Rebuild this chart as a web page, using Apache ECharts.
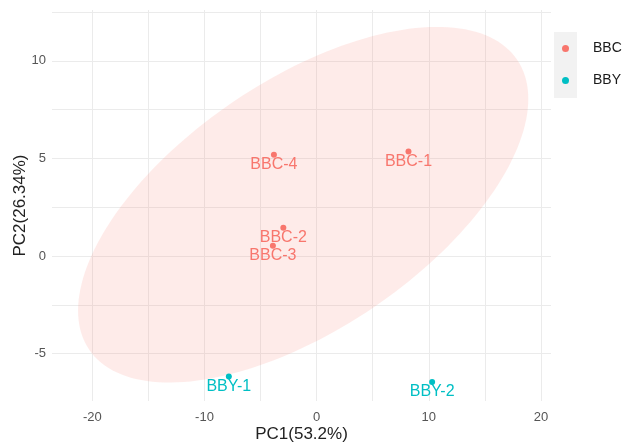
<!DOCTYPE html>
<html>
<head>
<meta charset="utf-8">
<script src="https://cdn.jsdelivr.net/npm/echarts@6/dist/echarts.min.js"></script>
<style>
  html, body { margin: 0; padding: 0; background: #ffffff; }
  #chart { width: 628px; height: 445px; }
</style>
</head>
<body>
<div id="chart"></div>
<script>
// PCA scores of the two sample groups
const groups = ['BBC', 'BBY'];
const groupColors = ['#F8766D', '#00BFC4'];

const bbcNames = ['BBC-1', 'BBC-2', 'BBC-3', 'BBC-4'];
const bbcPC1 = [8.19, -2.97, -3.9, -3.81];
const bbcPC2 = [5.35, 1.45, 0.53, 5.19];

const bbyNames = ['BBY-1', 'BBY-2'];
const bbyPC1 = [-7.83, 10.3];
const bbyPC2 = [-6.17, -6.45];

// BBC confidence ellipse: centre and shape matrix, in PC1/PC2 units
const ellipseCenter = [-1.2, 2.63];
const ellipseShape = [[403, 108.8], [108.8, 82.9]];

// Axis ranges, labelled ticks and grid lines
const xRange = [-23.6, 20.9];
const yRange = [-7.42, 12.6];
const xLabels = [-20, -10, 0, 10, 20];
const xGrid = [-20, -15, -10, -5, 0, 5, 10, 15, 20];
const yLabels = [-5, 0, 5, 10];
const yGrid = [-5, -2.5, 0, 2.5, 5, 7.5, 10, 12.5];

const FONT = '"Liberation Sans", Arial, sans-serif';

function points(names, xs, ys) {
  return names.map((n, i) => ({ name: n, value: [xs[i], ys[i]] }));
}

// Outline of the ellipse from its Cholesky factor
function ellipseOutline(center, S, steps) {
  const l11 = Math.sqrt(S[0][0]);
  const l21 = S[1][0] / l11;
  const l22 = Math.sqrt(S[1][1] - l21 * l21);
  const out = [];
  for (let k = 0; k < steps; k++) {
    const t = (2 * Math.PI * k) / steps;
    const c = Math.cos(t), s = Math.sin(t);
    out.push([center[0] + l11 * c, center[1] + l21 * c + l22 * s]);
  }
  return out;
}

const ellipsePts = ellipseOutline(ellipseCenter, ellipseShape, 180);

function scatterSeries(name, color, data) {
  return {
    name: name,
    type: 'scatter',
    data: data,
    symbol: 'circle',
    symbolSize: 6,
    itemStyle: { color: color, opacity: 1 },
    label: {
      show: true,
      position: 'inside',
      offset: [0, 10],
      formatter: p => p.name,
      color: color,
      fontSize: 16,
      fontFamily: FONT
    },
    emphasis: { disabled: true },
    z: 3
  };
}

const chart = echarts.init(document.getElementById('chart'), null, { renderer: 'canvas' });

chart.setOption({
  animation: false,
  backgroundColor: '#ffffff',
  grid: { left: 52, right: 77, top: 10, bottom: 44, outerBoundsMode: 'none', containLabel: false },
  xAxis: {
    type: 'value',
    min: xRange[0],
    max: xRange[1],
    name: 'PC1(53.2%)',
    nameLocation: 'middle',
    nameGap: 25,
    nameMoveOverlap: false,
    nameTextStyle: { fontSize: 17, color: '#222222', fontFamily: FONT },
    axisLine: { show: false },
    axisTick: { show: false, customValues: xGrid },
    axisLabel: { customValues: xLabels, margin: 10, fontSize: 13, color: '#555555', fontFamily: FONT },
    splitLine: { show: true, lineStyle: { color: '#EBEBEB', width: 1 } }
  },
  yAxis: {
    type: 'value',
    min: yRange[0],
    max: yRange[1],
    name: 'PC2(26.34%)',
    nameLocation: 'middle',
    nameGap: 23,
    nameMoveOverlap: false,
    nameTextStyle: { fontSize: 17, color: '#222222', fontFamily: FONT },
    axisLine: { show: false },
    axisTick: { show: false, customValues: yGrid },
    axisLabel: { customValues: yLabels, margin: 6, fontSize: 13, color: '#555555', fontFamily: FONT, padding: [8, 0, 0, 0] },
    splitLine: { show: true, lineStyle: { color: '#EBEBEB', width: 1 } }
  },
  legend: {
    data: groups,
    orient: 'vertical',
    left: 557,
    top: 35,
    padding: 5,
    icon: 'circle',
    itemWidth: 7,
    itemHeight: 7,
    itemGap: 15,
    formatter: name => '{t|' + name + '}',
    textStyle: {
      fontSize: 14, lineHeight: 17, color: '#1a1a1a', fontFamily: FONT,
      rich: { t: { fontSize: 14, lineHeight: 17, color: '#1a1a1a', fontFamily: FONT, padding: [0, 0, 0, 19] } }
    },
    z: 5
  },
  graphic: [{
    type: 'rect',
    shape: { x: 554, y: 32, width: 23, height: 66 },
    style: { fill: '#F2F2F2' },
    z: 0
  }],
  series: [
    {
      name: 'ellipse',
      type: 'custom',
      coordinateSystem: 'cartesian2d',
      data: [[ellipseCenter[0], ellipseCenter[1]]],
      renderItem: function (params, api) {
        return {
          type: 'polygon',
          shape: { points: ellipsePts.map(p => api.coord(p)) },
          style: { fill: 'rgba(248,118,109,0.15)', stroke: 'none' }
        };
      },
      silent: true,
      z: 1
    },
    scatterSeries(groups[0], groupColors[0], points(bbcNames, bbcPC1, bbcPC2)),
    scatterSeries(groups[1], groupColors[1], points(bbyNames, bbyPC1, bbyPC2))
  ]
});
</script>
</body>
</html>
